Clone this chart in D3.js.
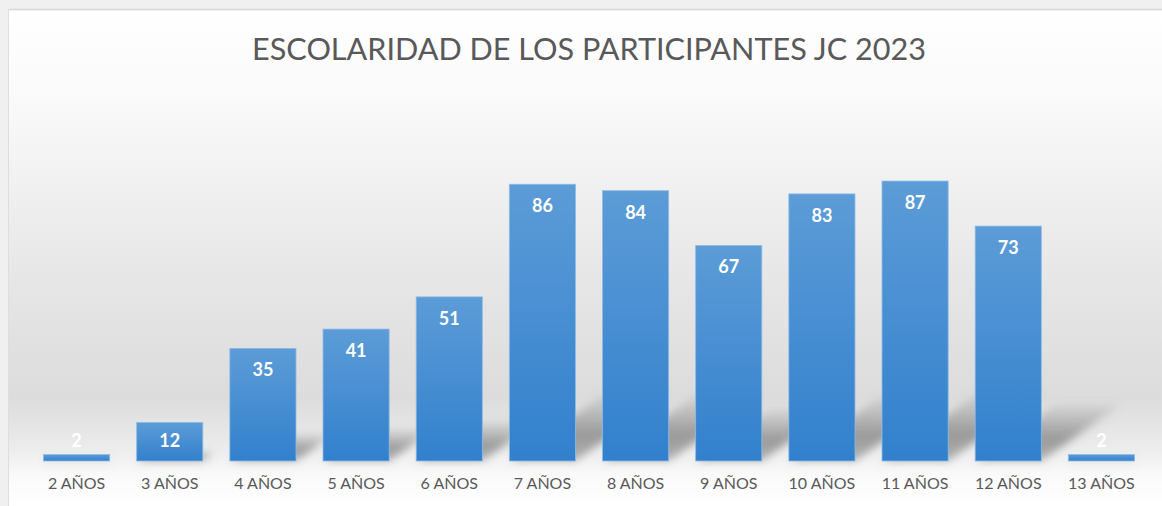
<!DOCTYPE html>
<html>
<head>
<meta charset="utf-8">
<script src="https://cdn.jsdelivr.net/npm/d3@7"></script>
<style>
  body { margin: 0; background: #f0f0f0; }
  svg { display: block; }
</style>
</head>
<body>
<svg id="chart" width="1162" height="506"></svg>
<script>
// data
var categories = ["2 AÑOS", "3 AÑOS", "4 AÑOS", "5 AÑOS", "6 AÑOS", "7 AÑOS",
                  "8 AÑOS", "9 AÑOS", "10 AÑOS", "11 AÑOS", "12 AÑOS", "13 AÑOS"];
var values = [2, 12, 35, 41, 51, 86, 84, 67, 83, 87, 73, 2];
var title = "ESCOLARIDAD DE LOS PARTICIPANTES JC 2023";

var svg = d3.select("#chart");
var W = 1162, H = 506;
var baseY = 461;

var defs = svg.append("defs");

// background gradient: white at top, grey behind bars, white again near labels
var bg = defs.append("linearGradient").attr("id", "bgGrad")
    .attr("x1", 0).attr("y1", 0).attr("x2", 0).attr("y2", 1);
bg.append("stop").attr("offset", "0%").attr("stop-color", "#ffffff");
bg.append("stop").attr("offset", "18%").attr("stop-color", "#fafafa");
bg.append("stop").attr("offset", "55%").attr("stop-color", "#e6e6e6");
bg.append("stop").attr("offset", "78%").attr("stop-color", "#dcdcdc");
bg.append("stop").attr("offset", "88%").attr("stop-color", "#ebebeb");
bg.append("stop").attr("offset", "94%").attr("stop-color", "#fafafa");
bg.append("stop").attr("offset", "100%").attr("stop-color", "#ffffff");

var barGrad = defs.append("linearGradient").attr("id", "barGrad")
    .attr("x1", 0).attr("y1", 0).attr("x2", 0).attr("y2", 1);
barGrad.append("stop").attr("offset", "0%").attr("stop-color", "#5c9cd7");
barGrad.append("stop").attr("offset", "100%").attr("stop-color", "#3280cd");

var shGrad = defs.append("linearGradient").attr("id", "shGrad")
    .attr("x1", 0).attr("y1", 1).attr("x2", 0).attr("y2", 0);
shGrad.append("stop").attr("offset", "0%").attr("stop-color", "#808080").attr("stop-opacity", 0.55);
shGrad.append("stop").attr("offset", "40%").attr("stop-color", "#808080").attr("stop-opacity", 0.75);
shGrad.append("stop").attr("offset", "100%").attr("stop-color", "#808080").attr("stop-opacity", 0.1);

defs.append("filter").attr("id", "blur")
    .attr("x", "-30%").attr("y", "-30%").attr("width", "160%").attr("height", "160%")
  .append("feGaussianBlur").attr("stdDeviation", 4);

// outer frame and chart area
svg.append("rect").attr("x", 0).attr("y", 0).attr("width", W).attr("height", H).attr("fill", "#f0f0f0");
svg.append("rect").attr("x", 9).attr("y", 9).attr("width", W - 9).attr("height", H - 9)
    .attr("fill", "url(#bgGrad)");
svg.append("line").attr("x1", 9).attr("x2", W).attr("y1", 9.5).attr("y2", 9.5)
    .attr("stroke", "#d6d6d6").attr("stroke-width", 1.5);
svg.append("line").attr("x1", 8.5).attr("x2", 8.5).attr("y1", 9).attr("y2", H)
    .attr("stroke", "#dedede").attr("stroke-width", 1);

var x = d3.scaleBand().domain(categories).range([30, 1148]).paddingInner(0.29).paddingOuter(0.145);
var y = d3.scaleLinear().domain([0, 100]).range([baseY, baseY - 321.8]);

// perspective shadows behind bars
svg.append("g").attr("filter", "url(#blur)")
  .selectAll("path").data(values).join("path")
    .attr("fill", "url(#shGrad)")
    .attr("d", function(d, i) {
        var x0 = x(categories[i]), x1 = x0 + x.bandwidth();
        var h = baseY - y(d);
        var dx = h * 0.34, dy = h * 0.24;
        return "M" + x0 + "," + baseY + "L" + x1 + "," + baseY +
               "L" + (x1 + dx) + "," + (baseY - dy) + "L" + (x0 + dx) + "," + (baseY - dy) + "Z";
    });

// bars
svg.append("g").selectAll("rect").data(values).join("rect")
    .attr("x", function(d, i) { return x(categories[i]); })
    .attr("y", function(d) { return y(d); })
    .attr("width", x.bandwidth())
    .attr("height", function(d) { return baseY - y(d); })
    .attr("fill", "url(#barGrad)")
    .attr("stroke", "#8ebbe6").attr("stroke-width", 0.8);

// value labels
svg.append("g").selectAll("text").data(values).join("text")
    .attr("x", function(d, i) { return x(categories[i]) + x.bandwidth() / 2; })
    .attr("y", function(d) {
        var top = y(d);
        if (baseY - top < 20) return top - 8;
        return Math.min(top + 28, baseY - 14);
    })
    .attr("text-anchor", "middle")
    .attr("font-family", "Lato, 'Open Sans', sans-serif")
    .attr("font-weight", "bold")
    .attr("font-size", 18)
    .attr("fill", "#ffffff")
    .text(function(d) { return d; });

// category axis
var xAxis = svg.append("g").attr("transform", "translate(0," + baseY + ")")
    .call(d3.axisBottom(x).tickSize(0).tickPadding(17));
xAxis.select(".domain").remove();
xAxis.selectAll("text")
    .attr("font-family", "Lato, 'Open Sans', sans-serif")
    .attr("font-size", 16)
    .attr("fill", "#595959");

// title
svg.append("text")
    .attr("x", 589).attr("y", 60)
    .attr("text-anchor", "middle")
    .attr("font-family", "Lato, 'Open Sans', sans-serif")
    .attr("font-size", 30.6)
    .attr("fill", "#595959")
    .text(title);
</script>
</body>
</html>
